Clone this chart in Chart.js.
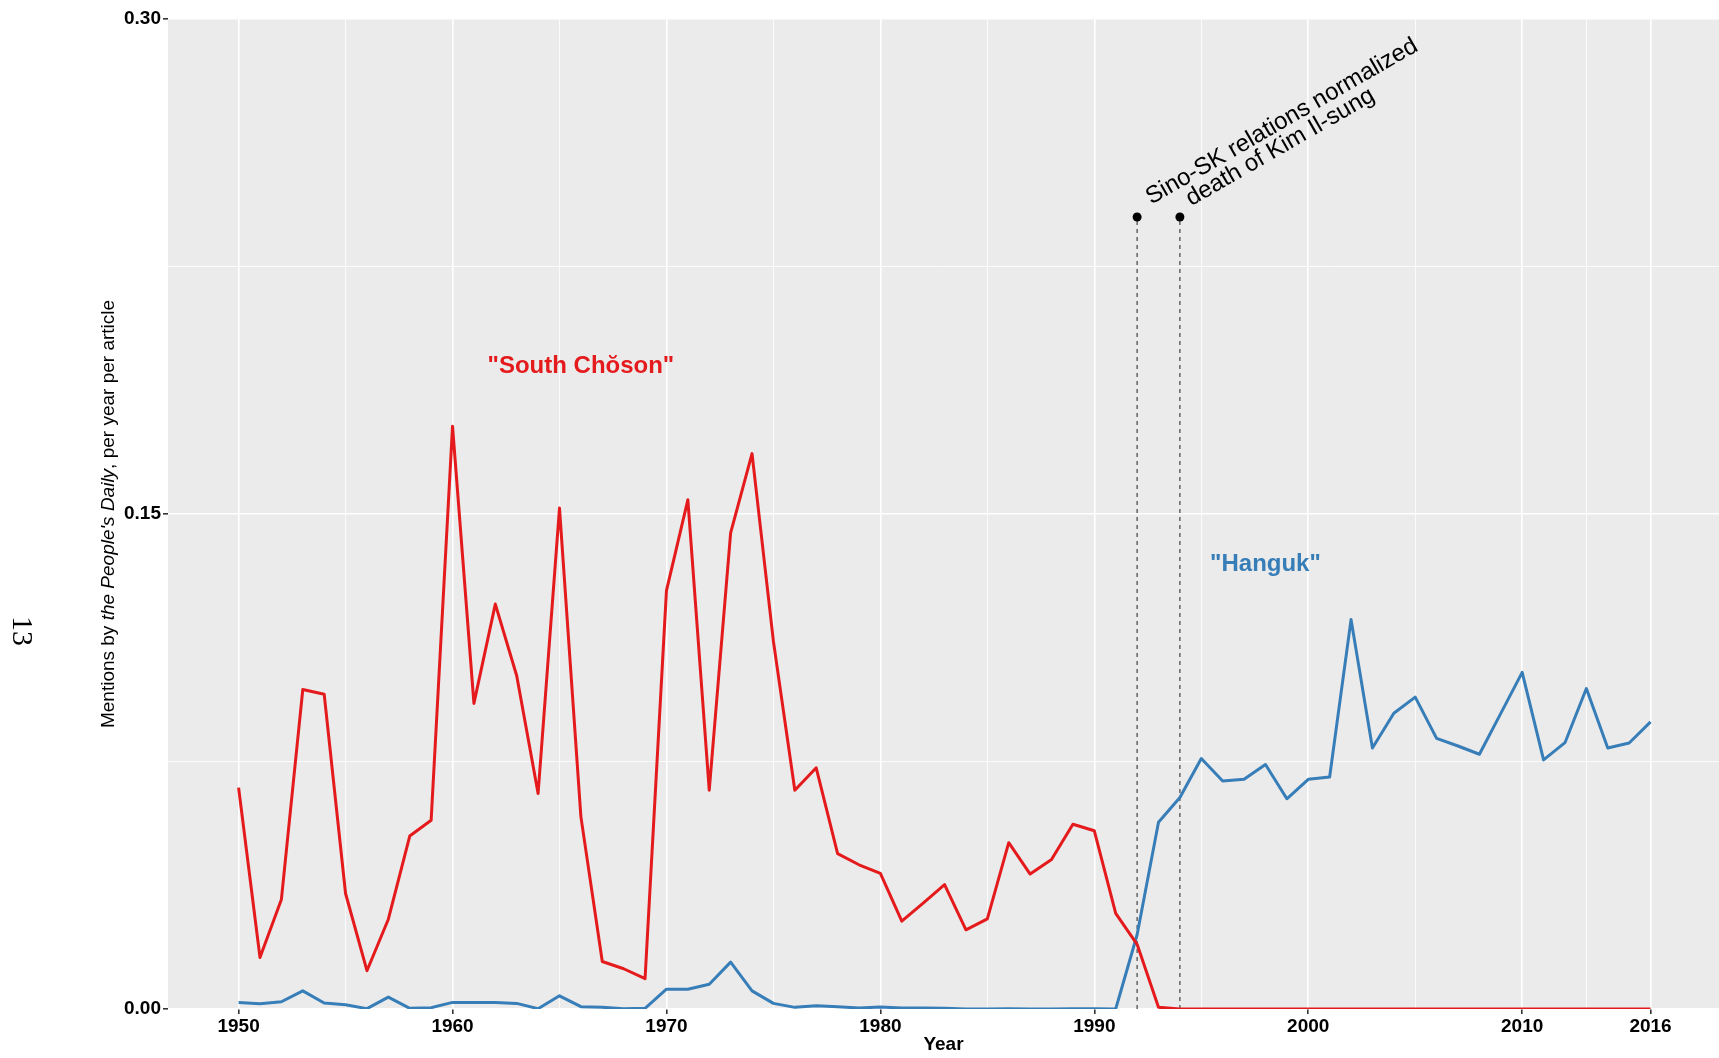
<!DOCTYPE html>
<html>
<head>
<meta charset="utf-8">
<script src="https://cdn.jsdelivr.net/npm/chart.js@4/dist/chart.umd.min.js"></script>
<style>
  html, body { margin: 0; padding: 0; background: #fff; }
  #wrap { width: 1719px; height: 1058px; }
</style>
</head>
<body>
<div id="wrap"><canvas id="chart" width="1719" height="1058"></canvas></div>
<script>
// Years on the x axis
const years = [
  1950, 1951, 1952, 1953, 1954, 1955, 1956, 1957, 1958, 1959,
  1960, 1961, 1962, 1963, 1964, 1965, 1966, 1967, 1968, 1969,
  1970, 1971, 1972, 1973, 1974, 1975, 1976, 1977, 1978, 1979,
  1980, 1981, 1982, 1983, 1984, 1985, 1986, 1987, 1988, 1989,
  1990, 1991, 1992, 1993, 1994, 1995, 1996, 1997, 1998, 1999,
  2000, 2001, 2002, 2003, 2004, 2005, 2006, 2007, 2008, 2009,
  2010, 2011, 2012, 2013, 2014, 2015, 2016
];

// "South Chŏson" mentions per year per article
const southChoson = [
  0.0671, 0.0156, 0.0332, 0.0968, 0.0954, 0.0350, 0.0116, 0.0272, 0.0524, 0.0572,
  0.1766, 0.0926, 0.1227, 0.1010, 0.0653, 0.1518, 0.0583, 0.0144, 0.0122, 0.0092,
  0.1268, 0.1543, 0.0663, 0.1443, 0.1683, 0.1114, 0.0663, 0.0731, 0.0471, 0.0437,
  0.0411, 0.0266, 0.0321, 0.0377, 0.0240, 0.0273, 0.0504, 0.0409, 0.0453, 0.0560,
  0.0540, 0.0290, 0.0196, 0.0005, 0.0000, 0.0000, 0.0000, 0.0000, 0.0000, 0.0000,
  0.0000, 0.0000, 0.0000, 0.0000, 0.0000, 0.0000, 0.0000, 0.0000, 0.0000, 0.0000,
  0.0000, 0.0000, 0.0000, 0.0000, 0.0000, 0.0000, 0.0000
];

// "Hanguk" mentions per year per article
const hanguk = [
  0.0020, 0.0016, 0.0022, 0.0055, 0.0018, 0.0013, 0.0001, 0.0036, 0.0002, 0.0004,
  0.0020, 0.0020, 0.0020, 0.0017, 0.0001, 0.0040, 0.0007, 0.0005, 0.0001, 0.0002,
  0.0060, 0.0060, 0.0075, 0.0142, 0.0055, 0.0017, 0.0005, 0.0010, 0.0007, 0.0003,
  0.0006, 0.0003, 0.0003, 0.0002, 0.0000, 0.0000, 0.0001, 0.0000, 0.0000, 0.0001,
  0.0001, 0.0000, 0.0225, 0.0566, 0.0641, 0.0759, 0.0691, 0.0696, 0.0741, 0.0637,
  0.0696, 0.0703, 0.1180, 0.0791, 0.0896, 0.0945, 0.0820, 0.0797, 0.0772, 0.0896,
  0.1020, 0.0755, 0.0807, 0.0971, 0.0791, 0.0806, 0.0870
];

// events marked with dashed lines
const eventYears = [1992, 1994];
const eventLevel = 0.24;
const eventLabels = ['Sino-SK relations normalized', 'death of Kim Il-sung'];

// axis breaks
const xMajor = [1950, 1960, 1970, 1980, 1990, 2000, 2010, 2016];
const xMinor = [1955, 1965, 1975, 1985, 1995, 2005, 2013];
const yMajor = [0, 0.15, 0.30];
const yMinor = [0.075, 0.225];
const yLabels = ['0.00', '0.15', '0.30'];

const RED = '#E41A1C';
const BLUE = '#377EB8';
const SANS = '"Liberation Sans", Arial, sans-serif';

const isMajorX = v => xMajor.includes(v);
const majorYIndex = v => yMajor.findIndex(m => Math.abs(m - v) < 1e-9);

const toPoints = vals => years.map((y, i) => ({ x: y, y: vals[i] }));

const eventSets = eventYears.map(yr => ({
  data: [{ x: yr, y: 0 }, { x: yr, y: eventLevel }],
  borderColor: '#444',
  borderWidth: 1.2,
  borderDash: [4, 4],
  pointRadius: [0, 4.5],
  pointBackgroundColor: '#000',
  pointBorderWidth: 0
}));

const panelPlugin = {
  id: 'panel',
  beforeDraw(chart) {
    const { ctx, chartArea: a } = chart;
    ctx.save();
    ctx.fillStyle = '#fff';
    ctx.fillRect(0, 0, chart.width, chart.height);
    ctx.fillStyle = '#EBEBEB';
    ctx.fillRect(a.left, a.top, a.right - a.left, a.bottom - a.top);
    ctx.restore();
  },
  afterDraw(chart) {
    const { ctx, chartArea: a } = chart;
    const xs = chart.scales.x, ys = chart.scales.y;
    ctx.save();

    // series labels
    ctx.font = 'bold 24px ' + SANS;
    ctx.textAlign = 'center';
    ctx.textBaseline = 'middle';
    ctx.fillStyle = RED;
    ctx.fillText('"South Chŏson"', xs.getPixelForValue(1966), ys.getPixelForValue(0.1948));
    ctx.fillStyle = BLUE;
    ctx.fillText('"Hanguk"', xs.getPixelForValue(1998), ys.getPixelForValue(0.1346));

    // event labels, slanted, pushed slightly off the dot
    ctx.font = '24px ' + SANS;
    ctx.fillStyle = '#000';
    ctx.textAlign = 'left';
    ctx.textBaseline = 'alphabetic';
    const ang = Math.PI / 6;
    eventYears.forEach((yr, i) => {
      const w = ctx.measureText(eventLabels[i]).width;
      const nudge = 0.034 * w;
      ctx.save();
      ctx.translate(xs.getPixelForValue(yr) + 5 + nudge * Math.cos(ang),
                    ys.getPixelForValue(eventLevel) - 7 - nudge * Math.sin(ang));
      ctx.rotate(-ang);
      ctx.fillText(eventLabels[i], 0, 0);
      ctx.restore();
    });

    // y axis title with italic newspaper name
    const parts = [
      { t: 'Mentions by ', f: '19px ' + SANS },
      { t: "the People's Daily", f: 'italic 19px ' + SANS },
      { t: ', per year per article', f: '19px ' + SANS }
    ];
    let total = 0;
    parts.forEach(p => { ctx.font = p.f; p.w = ctx.measureText(p.t).width; total += p.w; });
    ctx.save();
    ctx.translate(114, (a.top + a.bottom) / 2);
    ctx.rotate(-Math.PI / 2);
    let x = -total / 2;
    parts.forEach(p => { ctx.font = p.f; ctx.fillText(p.t, x, 0); x += p.w; });
    ctx.restore();

    // page number from the scanned page
    ctx.save();
    ctx.translate(21, 631);
    ctx.rotate(Math.PI / 2);
    ctx.font = '30px "Liberation Serif", serif';
    ctx.textAlign = 'center';
    ctx.textBaseline = 'middle';
    ctx.fillText('13', 0, 0);
    ctx.restore();

    ctx.restore();
  }
};

new Chart(document.getElementById('chart'), {
  type: 'line',
  data: {
    datasets: [
      {
        label: 'South Chŏson',
        data: toPoints(southChoson),
        borderColor: RED,
        borderWidth: 3,
        borderJoinStyle: 'round',
        pointRadius: 0
      },
      {
        label: 'Hanguk',
        data: toPoints(hanguk),
        borderColor: BLUE,
        borderWidth: 3,
        borderJoinStyle: 'round',
        pointRadius: 0
      },
      ...eventSets
    ]
  },
  options: {
    responsive: false,
    devicePixelRatio: 1,
    animation: false,
    layout: { autoPadding: false, padding: { top: 19, left: 0, right: 0, bottom: 0 } },
    plugins: { legend: { display: false }, tooltip: { enabled: false } },
    scales: {
      x: {
        type: 'linear',
        min: 1946.7,
        max: 2019.2,
        afterBuildTicks: s => {
          s.ticks = [...xMajor, ...xMinor].sort((a, b) => a - b).map(v => ({ value: v }));
        },
        afterFit: s => { s.height = 49; s.paddingLeft = 0; s.paddingRight = 0; },
        ticks: {
          autoSkip: false,
          maxRotation: 0,
          padding: 1,
          color: '#000',
          font: { family: SANS, size: 19, weight: 'bold' },
          callback: v => isMajorX(v) ? String(v) : ''
        },
        grid: {
          color: '#fff',
          lineWidth: c => isMajorX(c.tick.value) ? 1.6 : 0.8,
          tickColor: c => isMajorX(c.tick.value) ? '#333' : 'rgba(0,0,0,0)',
          tickLength: 5
        },
        border: { display: false },
        title: {
          display: true,
          text: 'Year',
          color: '#000',
          font: { family: SANS, size: 19, weight: 'bold' },
          padding: { top: 0, bottom: 2 }
        }
      },
      y: {
        min: 0,
        max: 0.30,
        afterBuildTicks: s => {
          s.ticks = [...yMajor, ...yMinor].sort((a, b) => a - b).map(v => ({ value: v }));
        },
        afterFit: s => { s.width = 168; },
        ticks: {
          padding: 2,
          color: '#000',
          font: { family: SANS, size: 19, weight: 'bold' },
          callback: v => { const i = majorYIndex(v); return i >= 0 ? yLabels[i] : ''; }
        },
        grid: {
          color: '#fff',
          lineWidth: c => majorYIndex(c.tick.value) >= 0 ? 1.6 : 0.8,
          tickColor: c => majorYIndex(c.tick.value) >= 0 ? '#333' : 'rgba(0,0,0,0)',
          tickLength: 5
        },
        border: { display: false }
      }
    }
  },
  plugins: [panelPlugin]
});
</script>
</body>
</html>
